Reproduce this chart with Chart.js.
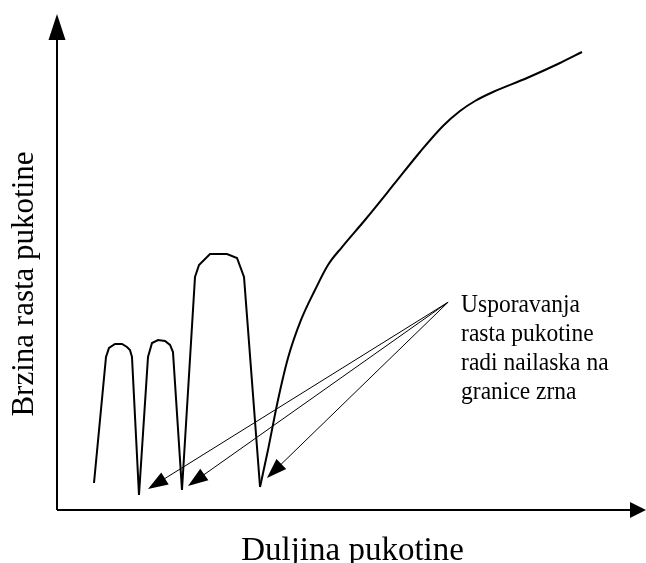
<!DOCTYPE html>
<html>
<head>
<meta charset="utf-8">
<script src="https://cdn.jsdelivr.net/npm/chart.js@4.4.1/dist/chart.umd.min.js"></script>
<style>
  html, body { margin: 0; padding: 0; background: #ffffff; }
  #wrap { width: 646px; height: 563px; position: relative; }
</style>
</head>
<body>
<div id="wrap"><canvas id="c" width="646" height="563"></canvas></div>
<script>
// Schematic curve: crack growth rate vs crack length (arbitrary units 0..100)
const humpX = [6.28, 8.32, 8.83, 9.85, 11.04, 11.88, 12.39, 12.73, 13.92,
               15.45, 16.13, 17.15, 18.34, 19.19, 19.69, 21.22,
               23.43, 24.11, 25.98, 28.86, 30.56, 31.75, 34.47];
const humpY = [5.44, 30.85, 32.66, 33.47, 33.47, 32.86, 32.26, 30.85, 3.02,
               30.85, 33.67, 34.27, 34.07, 33.27, 31.85, 4.03,
               46.98, 49.40, 51.61, 51.61, 50.81, 46.98, 4.64];
const riseX = [34.47, 35.82, 37.52, 39.22, 41.43, 43.80, 46.01, 48.39, 52.29, 57.39,
               61.63, 65.53, 68.42, 70.97, 74.02, 79.80, 85.40, 89.13];
const riseY = [4.64, 12.10, 22.18, 30.65, 38.31, 44.35, 49.40, 53.02, 58.47, 65.93,
               72.18, 77.42, 80.44, 82.46, 84.27, 87.10, 90.12, 92.34];

// Annotation: arrows from the label to the three minima
const annoFrom = [66.4, 41.9];
const annoTargetsX = [15.45, 22.24, 35.65];
const annoTargetsY = [4.23, 4.84, 6.45];
const annoLines = ["Usporavanja", "rasta pukotine", "radi nailaska na", "granice zrna"];

const xTitle = "Duljina pukotine";
const yTitle = "Brzina rasta pukotine";

const toPts = (xs, ys) => xs.map((x, i) => ({ x: x, y: ys[i] }));

function arrowHead(ctx, fx, fy, tx, ty, len, halfW) {
  const a = Math.atan2(ty - fy, tx - fx);
  const bx = tx - len * Math.cos(a), by = ty - len * Math.sin(a);
  const nx = -Math.sin(a), ny = Math.cos(a);
  ctx.beginPath();
  ctx.moveTo(tx, ty);
  ctx.lineTo(bx + nx * halfW, by + ny * halfW);
  ctx.lineTo(bx - nx * halfW, by - ny * halfW);
  ctx.closePath();
  ctx.fill();
}

function stretchedText(ctx, text, x, y, sy) {
  ctx.save();
  ctx.translate(x, y);
  ctx.scale(1, sy);
  ctx.fillText(text, 0, 0);
  ctx.restore();
}

const decor = {
  id: 'decor',
  beforeDraw(chart) {
    const ctx = chart.ctx;
    ctx.save();
    ctx.fillStyle = '#ffffff';
    ctx.fillRect(0, 0, chart.width, chart.height);
    ctx.restore();
  },
  afterDatasetsDraw(chart) {
    const ctx = chart.ctx;
    const xs = chart.scales.x, ys = chart.scales.y;
    const ca = chart.chartArea;
    const x0 = xs.getPixelForValue(0), y0 = ys.getPixelForValue(0);
    ctx.save();
    ctx.strokeStyle = '#000'; ctx.fillStyle = '#000';
    // axes
    ctx.lineWidth = 2;
    ctx.beginPath();
    ctx.moveTo(x0, y0); ctx.lineTo(x0, ca.top + 20);
    ctx.moveTo(x0, y0); ctx.lineTo(ca.right - 10, y0);
    ctx.stroke();
    arrowHead(ctx, x0, y0, x0, ca.top, 26, 8.5);
    arrowHead(ctx, x0, y0, ca.right, y0, 16, 8);
    // annotation arrows
    const fx = xs.getPixelForValue(annoFrom[0]), fy = ys.getPixelForValue(annoFrom[1]);
    ctx.lineWidth = 1;
    for (let i = 0; i < annoTargetsX.length; i++) {
      const tx = xs.getPixelForValue(annoTargetsX[i]), ty = ys.getPixelForValue(annoTargetsY[i]);
      const a = Math.atan2(ty - fy, tx - fx);
      ctx.beginPath();
      ctx.moveTo(fx, fy);
      ctx.lineTo(tx - 15 * Math.cos(a), ty - 15 * Math.sin(a));
      ctx.stroke();
      arrowHead(ctx, fx, fy, tx, ty, 20, 7);
    }
    // annotation text
    ctx.font = '23.5px "Liberation Serif", "Times New Roman", serif';
    ctx.textAlign = 'left'; ctx.textBaseline = 'alphabetic';
    annoLines.forEach((t, i) => stretchedText(ctx, t, fx + 13, fy + 10 + i * 29, 1.1));
    // axis titles
    ctx.font = '33px "Liberation Serif", "Times New Roman", serif';
    ctx.textAlign = 'center';
    stretchedText(ctx, xTitle, (x0 + ca.right) / 2 + 1, y0 + 50, 1.05);
    ctx.font = '31px "Liberation Serif", "Times New Roman", serif';
    ctx.save();
    ctx.translate(x0 - 24, (ca.top + y0) / 2 + 22);
    ctx.rotate(-Math.PI / 2);
    ctx.fillText(yTitle, 0, 0);
    ctx.restore();
    ctx.restore();
  }
};

new Chart(document.getElementById('c'), {
  type: 'scatter',
  data: {
    datasets: [
      { data: toPts(humpX, humpY), showLine: true, borderColor: '#000', borderWidth: 2,
        pointRadius: 0, tension: 0, fill: false },
      { data: toPts(riseX, riseY), showLine: true, borderColor: '#000', borderWidth: 2,
        pointRadius: 0, cubicInterpolationMode: 'monotone', fill: false }
    ]
  },
  options: {
    responsive: false,
    animation: false,
    devicePixelRatio: 1,
    layout: { padding: { left: 57, right: 0, top: 14, bottom: 53 } },
    plugins: { legend: { display: false }, tooltip: { enabled: false } },
    scales: {
      x: { type: 'linear', min: 0, max: 100, display: false },
      y: { type: 'linear', min: 0, max: 100, display: false }
    }
  },
  plugins: [decor]
});
</script>
</body>
</html>
